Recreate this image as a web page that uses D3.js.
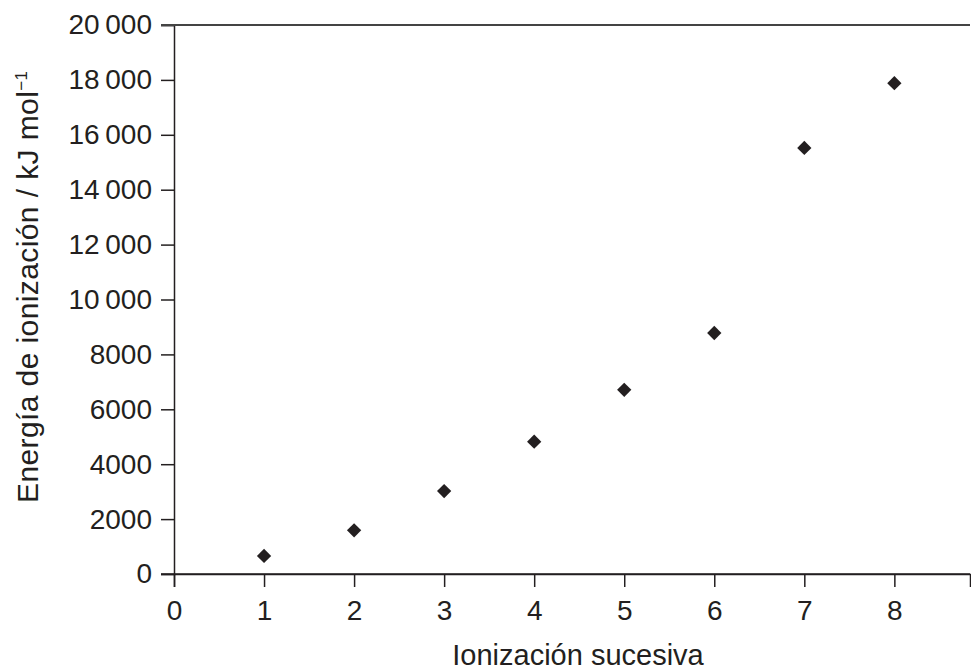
<!DOCTYPE html>
<html>
<head>
<meta charset="utf-8">
<script src="https://cdn.jsdelivr.net/npm/d3@7"></script>
<style>
  body { margin: 0; background: #fff; }
  svg text { font-family: "Liberation Sans", Arial, sans-serif; fill: #231f20; }
</style>
</head>
<body>
<svg id="chart" width="971" height="670"></svg>
<script>
// ionización sucesiva vs energía
const ionizations = [1, 2, 3, 4, 5, 6, 7, 8];
const energies = [660, 1590, 3020, 4820, 6710, 8780, 15520, 17880];
const xTicks = [0, 1, 2, 3, 4, 5, 6, 7, 8];
const yTicks = [0, 2000, 4000, 6000, 8000, 10000, 12000, 14000, 16000, 18000, 20000];

const ink = "#231f20";
const svg = d3.select("#chart");

const mLeft = 174, mRight = 970, mTop = 25, mBottom = 574;

const x = d3.scaleLinear().domain([0, 8.84]).range([mLeft, mRight]);
const y = d3.scaleLinear().domain([0, 20000]).range([mBottom, mTop]);

// numeros con espacio fino para miles (solo >= 10 000)
const fmt = v => v >= 10000
  ? d3.format("d")(Math.floor(v / 1000)) + "\u2009" + d3.format("03d")(v % 1000)
  : d3.format("d")(v);

// eje Y
const yAxis = svg.append("g")
  .attr("transform", `translate(${mLeft},0)`)
  .call(d3.axisLeft(y).tickValues(yTicks).tickFormat(fmt).tickSizeOuter(0).tickSize(13).tickPadding(9));

// eje X
const xAxis = svg.append("g")
  .attr("transform", `translate(0,${mBottom})`)
  .call(d3.axisBottom(x).tickValues(xTicks).tickFormat(d3.format("d")).tickSizeOuter(0).tickSize(13).tickPadding(13));

[yAxis, xAxis].forEach(g => {
  g.select(".domain").attr("stroke", ink).attr("stroke-width", 1.5);
  g.selectAll(".tick line").attr("stroke", ink).attr("stroke-width", 1.5);
  g.selectAll(".tick text").attr("font-size", 28).attr("fill", ink)
    .attr("font-family", "Liberation Sans, Arial, sans-serif");
});

// linea inferior hasta el tick y linea superior
svg.append("line")
  .attr("x1", mLeft - 13).attr("x2", mRight)
  .attr("y1", mBottom).attr("y2", mBottom)
  .attr("stroke", ink).attr("stroke-width", 1.5);
svg.append("line")
  .attr("x1", mLeft - 13).attr("x2", mRight)
  .attr("y1", mTop).attr("y2", mTop)
  .attr("stroke", "#444").attr("stroke-width", 1.8);

// puntos (rombos)
svg.append("g")
  .selectAll("path")
  .data(ionizations.map((d, i) => ({ n: d, e: energies[i] })))
  .join("path")
  .attr("d", d3.symbol(d3.symbolDiamond2, 130))
  .attr("transform", d => `translate(${x(d.n)},${y(d.e)})`)
  .attr("fill", ink);

// titulos
svg.append("text")
  .attr("x", 578)
  .attr("y", 665)
  .attr("text-anchor", "middle")
  .attr("font-size", 29)
  .text("Ionización sucesiva");

const yl = svg.append("text")
  .attr("transform", "translate(38,503) rotate(-90)")
  .attr("text-anchor", "start")
  .attr("font-size", 30)
  .attr("letter-spacing", 0.4);
yl.append("tspan").text("Energía de ionización / kJ mol");
yl.append("tspan").attr("font-size", 17).attr("dy", -11).text("\u22121");
</script>
</body>
</html>
